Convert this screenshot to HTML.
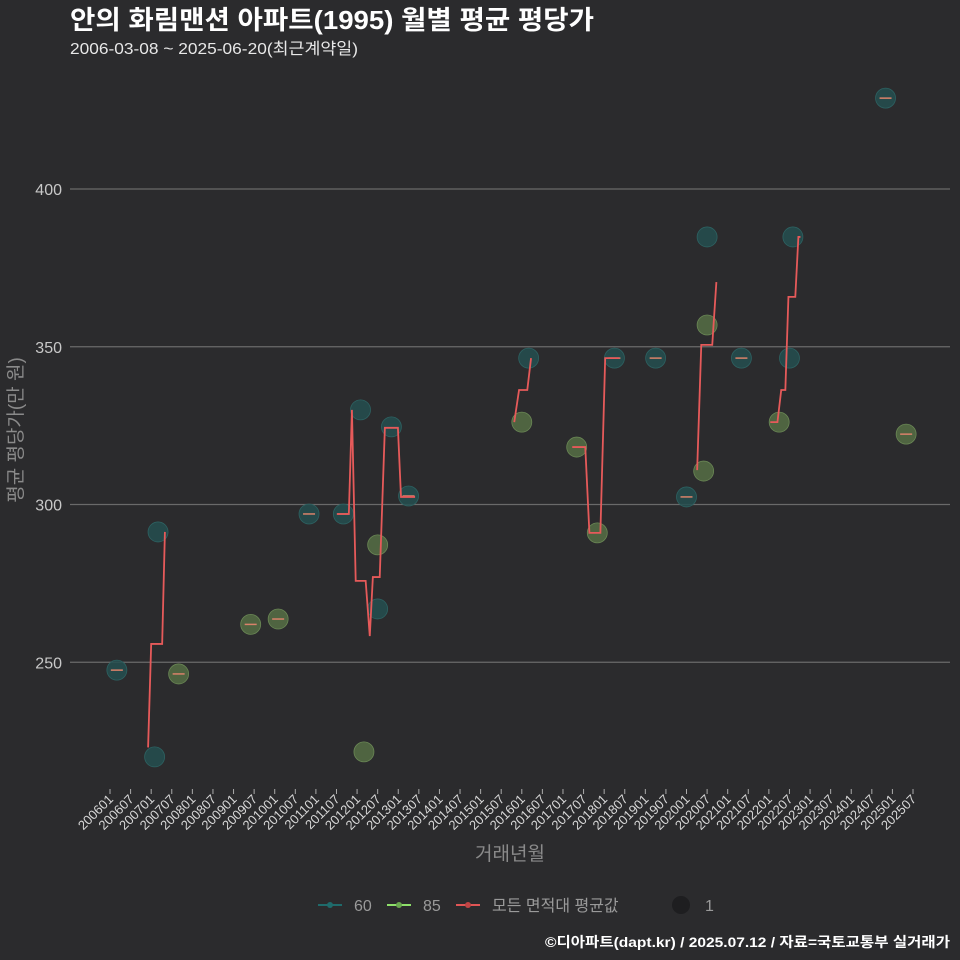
<!DOCTYPE html>
<html><head><meta charset="utf-8"><style>
body{margin:0;background:#2b2b2d;}
svg{display:block;font-family:"Liberation Sans","Noto Sans CJK KR",sans-serif;}
</style></head><body>
<svg id="c" width="960" height="960" xmlns="http://www.w3.org/2000/svg">
<rect width="960" height="960" fill="#2b2b2d"/>
<text x="70" y="29" fill="#ffffff" font-size="26" font-weight="bold" textLength="524" lengthAdjust="spacingAndGlyphs">안의 화림맨션 아파트(1995) 월별 평균 평당가</text>
<text x="70" y="54" fill="#e8e8e8" font-size="16" textLength="288" lengthAdjust="spacingAndGlyphs">2006-03-08 ~ 2025-06-20(최근계약일)</text>
<g id="grid"></g><g id="xaxis"></g><g id="marks"></g>
<text transform="translate(22,430) rotate(-90)" text-anchor="middle" fill="#8a8a8a" font-size="19">평균 평당가(만 원)</text>
<text x="510" y="860" text-anchor="middle" fill="#8a8a8a" font-size="19">거래년월</text>
<g font-size="16" fill="#9a9a9a">
<line x1="318" y1="905" x2="342" y2="905" stroke="#1f6b6b" stroke-width="2"/><circle cx="330" cy="905" r="3" fill="#1f6b6b"/>
<text x="354" y="911">60</text>
<line x1="387" y1="905" x2="411" y2="905" stroke="#8ee06a" stroke-width="2"/><circle cx="399" cy="905" r="3" fill="#6aa84f"/>
<text x="423" y="911">85</text>
<line x1="456" y1="905" x2="480" y2="905" stroke="#e05555" stroke-width="2"/><circle cx="468" cy="905" r="3" fill="#c04444"/>
<text x="492" y="911">모든 면적대 평균값</text>
<circle cx="681" cy="905" r="9" fill="#1e1e20"/>
<text x="705" y="911">1</text>
</g>
<text x="950" y="947" text-anchor="end" fill="#ffffff" font-size="14" font-weight="bold" textLength="405" lengthAdjust="spacingAndGlyphs">©디아파트(dapt.kr) / 2025.07.12 / 자료=국토교통부 실거래가</text>
</svg>
<script>
const yTicks=[250,300,350,400];
const xTickLabels=[];
for(let yr=2006;yr<=2025;yr++){xTickLabels.push(yr+"01");xTickLabels.push(yr+"07");}
// month index since 2006-01
const s60Months=[2,13,14,58,68,73,78,82,87,122,147,159,168,174,184,198,199,226];
const s60Values=[247.5,220,291.3,297,297,330,266.9,324.6,302.7,346.4,346.4,346.4,302.4,384.8,346.4,346.4,384.8,428.8];
const s60Dash=[1,0,0,1,1,0,0,0,1,0,1,1,1,0,1,0,0,1];
const s85Months=[20,41,49,74,78,120,136,142,173,174,195,232];
const s85Values=[246.3,262,263.7,221.6,287.2,326.1,318.2,291,310.6,356.9,326.1,322.3];
const s85Dash=[1,1,1,0,0,0,0,0,0,0,0,1];
const avgSegMonths=[
[11.1,12,15.2,16],
[66.1,69.6,70.5,71.6,74.5,75.7,76.6,78.6,80.1,81,83.9,84.8,88.9],
[117.8,119.2,121.6,122.7],
[134.7,138.5,139.7,142.9,144.3,148.4],
[171.1,172.3,175.5,176.7],
[192.4,194.5,195.6,196.8,197.7,199.7,200.6,201.2]];
const avgSegValues=[
[223,255.8,255.8,291.3],
[297,297,330,275.8,275.8,258.3,277,277,324.3,324.3,324.3,302.4,302.4],
[326.1,336.3,336.3,346.4],
[318.2,318.2,291,291,346.4,346.4],
[310.9,350.6,350.6,370.5],
[326.1,326.1,336.3,336.3,365.8,365.8,384.8,384.8]];
const NS="http://www.w3.org/2000/svg";
const X=m=>110+m*(803/234);
const Y=v=>189+(400-v)*3.155;
function mk(t,a,p){const e=document.createElementNS(NS,t);for(const k in a)e.setAttribute(k,a[k]);p.appendChild(e);return e;}
const grid=document.getElementById('grid'),xa=document.getElementById('xaxis'),mg=document.getElementById('marks');
yTicks.forEach(v=>{
 const l=mk('line',{x1:70,x2:950,y1:Y(v),y2:Y(v),stroke:'#6a6a6a','stroke-width':1.2},grid);
 
 
 const t=mk('text',{x:62,y:Y(v)+6,'text-anchor':'end',fill:'#c8c8c8','font-size':16},grid);t.textContent=v;
 
 
});
xTickLabels.forEach((lab,i)=>{
 const x=X(i*6);
 const l=mk('line',{x1:x,x2:x,y1:789,y2:794,stroke:'#aaa'},xa);
 
 
 const t=mk('text',{transform:`translate(${x+4},800) rotate(-45)`,'text-anchor':'end',fill:'#d8d8d8','font-size':13},xa);t.textContent=lab;
 
 
});
function pts(ms,vs,ds,fill,stroke,name){
 ms.forEach((m,i)=>{
  const c=mk('circle',{cx:X(m),cy:Y(vs[i]),r:10,fill:fill,stroke:stroke,'stroke-width':0.8,'fill-opacity':0.85},mg);
  
  
  if(ds[i]){
   const d=mk('line',{x1:X(m)-6,x2:X(m)+6,y1:Y(vs[i]),y2:Y(vs[i]),stroke:'#d9826a','stroke-width':1.5},mg);
   
   
  }
 });
}
pts(s60Months,s60Values,s60Dash,'#244f50','#2d6262','point-60');
pts(s85Months,s85Values,s85Dash,'#566e45','#6a8755','point-85');
avgSegMonths.forEach((ms,j)=>{
 const p=mk('polyline',{points:ms.map((m,i)=>X(m)+','+Y(avgSegValues[j][i])).join(' '),fill:'none',stroke:'#e65a5a','stroke-width':1.8},mg);
 
 
});
</script>
</body></html>
